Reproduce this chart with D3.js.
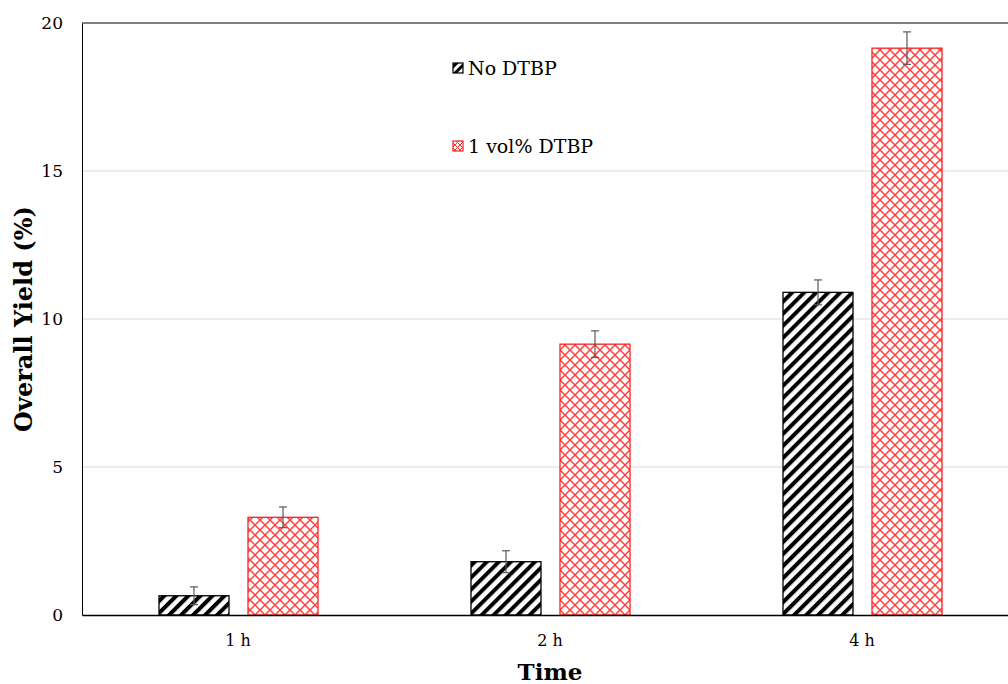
<!DOCTYPE html>
<html>
<head>
<meta charset="utf-8">
<script src="https://cdn.jsdelivr.net/npm/d3@7/dist/d3.min.js"></script>
<style>
  html, body { margin: 0; padding: 0; background: #fff; }
  svg { display: block; font-family: "DejaVu Serif", "Liberation Serif", serif; }
</style>
</head>
<body>
<svg id="chart" width="1008" height="684"></svg>
<script>
// Overall yield by reaction time, with and without DTBP
const categories = ["1 h", "2 h", "4 h"];
const seriesNames = ["No DTBP", "1 vol% DTBP"];
const noDtbp = [0.65, 1.8, 10.9];
const noDtbpErr = [0.3, 0.37, 0.42];
const withDtbp = [3.3, 9.15, 19.15];
const withDtbpErr = [0.35, 0.45, 0.55];
const yTicks = [0, 5, 10, 15, 20];

const svg = d3.select("#chart");
const margin = { left: 82, top: 23, right: 1018, bottom: 615 };

const x = d3.scaleBand().domain(categories).range([margin.left, margin.right]);
const inner = d3.scaleBand().domain(seriesNames).range([-79, 80]).paddingInner(0.2135);
const y = d3.scaleLinear().domain([0, 20]).range([margin.bottom, margin.top]);

// Fill patterns
const defs = svg.append("defs");
const stripes = defs.append("pattern")
  .attr("id", "stripes").attr("patternUnits", "userSpaceOnUse")
  .attr("width", 8.5).attr("height", 8.5)
  .attr("patternTransform", "rotate(45)");
stripes.append("rect").attr("width", 8.5).attr("height", 8.5).attr("fill", "#fff");
stripes.append("rect").attr("x", 0).attr("width", 4).attr("height", 8.5).attr("fill", "#000");

const hatch = defs.append("pattern")
  .attr("id", "hatch").attr("patternUnits", "userSpaceOnUse")
  .attr("width", 10).attr("height", 10);
hatch.append("rect").attr("width", 10).attr("height", 10).attr("fill", "#fff");
hatch.append("path").attr("d", "M0,0L10,10M10,0L0,10")
  .attr("stroke", "#ff4040").attr("stroke-width", 1.5).attr("fill", "none");

const smallStripes = defs.append("pattern")
  .attr("id", "stripesSmall").attr("patternUnits", "userSpaceOnUse")
  .attr("width", 6).attr("height", 6)
  .attr("patternTransform", "rotate(45)");
smallStripes.append("rect").attr("width", 6).attr("height", 6).attr("fill", "#fff");
smallStripes.append("rect").attr("width", 3).attr("height", 6).attr("fill", "#000");

const smallHatch = defs.append("pattern")
  .attr("id", "hatchSmall").attr("patternUnits", "userSpaceOnUse")
  .attr("width", 5).attr("height", 5);
smallHatch.append("rect").attr("width", 5).attr("height", 5).attr("fill", "#fff");
smallHatch.append("path").attr("d", "M0,0L5,5M5,0L0,5")
  .attr("stroke", "#ff3030").attr("stroke-width", 1).attr("fill", "none");

// Gridlines
svg.append("g").selectAll("line").data(yTicks.filter(d => d > 0 && d < 20)).join("line")
  .attr("x1", margin.left).attr("x2", 1008)
  .attr("y1", d => y(d)).attr("y2", d => y(d))
  .attr("stroke", "#d9d9d9").attr("stroke-width", 1);

// Top border
svg.append("line").attr("x1", margin.left).attr("x2", 1008)
  .attr("y1", y(20)).attr("y2", y(20)).attr("stroke", "#000").attr("stroke-width", 1);

// Y axis
const yAxis = svg.append("g").attr("transform", `translate(${margin.left},0)`)
  .call(d3.axisLeft(y).tickValues(yTicks).tickSize(0).tickPadding(19));
yAxis.select(".domain").attr("stroke", "#000");
yAxis.selectAll("text").attr("font-size", 17).attr("fill", "#000")
  .attr("font-family", "DejaVu Serif, serif");

// Bars
const series = [
  { name: seriesNames[0], values: noDtbp, errs: noDtbpErr, fill: "url(#stripes)", stroke: "#000" },
  { name: seriesNames[1], values: withDtbp, errs: withDtbpErr, fill: "url(#hatch)", stroke: "#ff2020" }
];

series.forEach(s => {
  const g = svg.append("g");
  g.selectAll("rect").data(categories).join("rect")
    .attr("x", (c) => x(c) + x.bandwidth() / 2 + inner(s.name))
    .attr("width", inner.bandwidth())
    .attr("y", (c, i) => y(s.values[i]))
    .attr("height", (c, i) => y(0) - y(s.values[i]))
    .attr("fill", s.fill).attr("stroke", s.stroke).attr("stroke-width", 1.3);

  // Error bars
  const eg = svg.append("g").attr("stroke", "#595959").attr("stroke-width", 1.2);
  categories.forEach((c, i) => {
    const cx = x(c) + x.bandwidth() / 2 + inner(s.name) + inner.bandwidth() / 2;
    const lo = y(s.values[i] - s.errs[i]);
    const hi = y(s.values[i] + s.errs[i]);
    eg.append("line").attr("x1", cx).attr("x2", cx).attr("y1", lo).attr("y2", hi);
    eg.append("line").attr("x1", cx - 4).attr("x2", cx + 4).attr("y1", lo).attr("y2", lo);
    eg.append("line").attr("x1", cx - 4).attr("x2", cx + 4).attr("y1", hi).attr("y2", hi);
  });
});

// X axis
const xAxis = svg.append("g").attr("transform", `translate(0,${margin.bottom})`)
  .call(d3.axisBottom(x).tickSize(0).tickPadding(20));
xAxis.select(".domain").attr("stroke", "#000").attr("stroke-width", 1.3);
xAxis.selectAll("text").attr("font-size", 16).attr("fill", "#000")
  .attr("font-family", "DejaVu Serif, serif");

// Axis titles
svg.append("text").attr("x", (margin.left + margin.right) / 2).attr("y", 680)
  .attr("text-anchor", "middle").attr("font-size", 23).attr("font-weight", "bold")
  .text("Time");
svg.append("text")
  .attr("transform", `translate(32,${(margin.top + margin.bottom) / 2}) rotate(-90)`)
  .attr("text-anchor", "middle").attr("font-size", 24).attr("font-weight", "bold")
  .text("Overall Yield (%)");

// Legend
const legend = [
  { name: seriesNames[0], fill: "url(#stripesSmall)", stroke: "#000", y: 68 },
  { name: seriesNames[1], fill: "url(#hatchSmall)", stroke: "#ff2020", y: 146 }
];
const lg = svg.append("g");
legend.forEach(l => {
  lg.append("rect").attr("x", 453).attr("y", l.y - 5).attr("width", 10).attr("height", 10)
    .attr("fill", l.fill).attr("stroke", l.stroke).attr("stroke-width", 1.2);
  lg.append("text").attr("x", 468).attr("y", l.y + 7).attr("font-size", 19)
    .attr("fill", "#000").text(l.name);
});
</script>
</body>
</html>
